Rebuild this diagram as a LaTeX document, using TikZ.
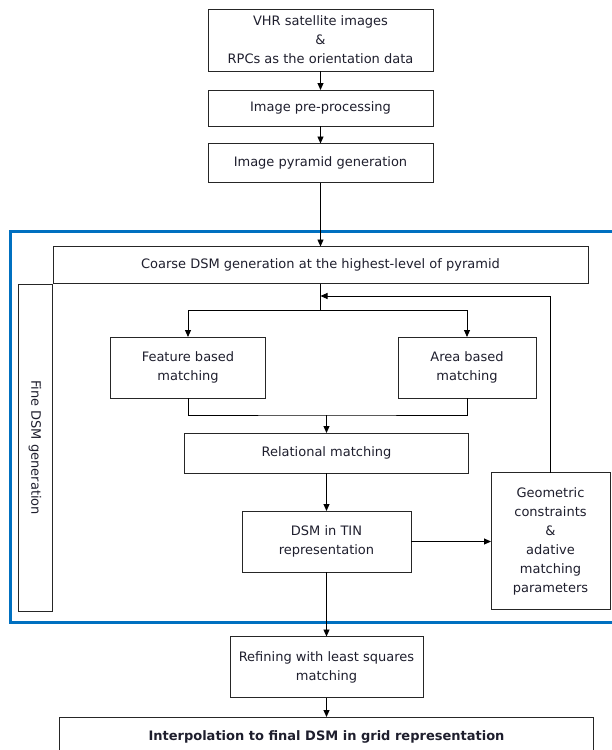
\documentclass[tikz,border=0pt]{standalone}
\usepackage{fontspec}
\setmainfont{DejaVu Sans}
\usepackage{tikz}
\usetikzlibrary{arrows.meta}
\definecolor{framecolor}{RGB}{0, 112, 192}
\definecolor{txtcolor}{RGB}{30, 30, 45}

\begin{document}
\begin{tikzpicture}[x=1pt, y=-1pt,
    box/.style={draw=black!85, line width=1pt, inner sep=0pt, outer sep=0pt,
        align=center, text=txtcolor, font=\fontsize{13}{19}\selectfont},
    arr/.style={-{Triangle[length=7pt, width=6pt]}, line width=0.9pt},
    con/.style={line width=0.9pt}]
    \useasboundingbox (0,0) rectangle (612,750);
    % outer frame of the DSM generation stage
    \draw[framecolor, line width=3pt] (10.5,231) rectangle (640,622.5);

    \node[box, minimum width=225, minimum height=62] (input) at (320.5,40)
        {VHR satellite images\\\&\\RPCs as the orientation data};
    \node[box, minimum width=225, minimum height=36] (prep) at (320.5,108) {Image pre-processing};
    \node[box, minimum width=225, minimum height=39] (pyr) at (320.5,163) {Image pyramid generation};
    \node[box, minimum width=535, minimum height=37] (coarse) at (320.5,265)
        {Coarse DSM generation at the highest-level of pyramid};
    \node[box, minimum width=34, minimum height=327] (fine) at (35,447.5) {};
    \node[rotate=-90, text=txtcolor, font=\fontsize{13}{19}\selectfont] (finelbl) at (fine.center) {Fine DSM generation};
    \node[box, minimum width=155, minimum height=61] (feat) at (188,367.5) {Feature based\\matching};
    \node[box, minimum width=138, minimum height=61] (area) at (467,367.5) {Area based\\matching};
    \node[box, minimum width=284, minimum height=40] (rel) at (326.5,453) {Relational matching};
    \node[box, minimum width=169, minimum height=61] (tin) at (326.5,541.5) {DSM in TIN\\representation};
    \node[box, minimum width=119, minimum height=137] (geo) at (550.5,541)
        {Geometric\\constraints\\\&\\adative\\matching\\parameters};
    \node[box, minimum width=193, minimum height=61] (lsm) at (326.5,667) {Refining with least squares\\matching};
    \node[box, minimum width=534, minimum height=40, font=\fontsize{13}{19}\selectfont\bfseries] (final) at (326.5,737)
        {Interpolation to final DSM in grid representation};

    \coordinate (fb) at (320.5,296);
    \coordinate (split) at (320.5,310);
    \coordinate (merge) at (326.5,415);

    \draw[arr] (input) -- (prep);
    \draw[arr] (prep) -- (pyr);
    \draw[arr] (pyr) -- (coarse);
    \draw[con] (coarse.south) -- (split);
    \draw[arr] (split) -| (feat.north);
    \draw[arr] (split) -| (area.north);
    \draw[arr] (geo.north) |- (fb);
    \draw[con] (feat.south) |- (merge) -| (area.south);
    \draw[arr] (merge) -- (rel);
    \draw[arr] (rel) -- (tin);
    \draw[arr] (tin.east) -- (tin.east -| geo.west);
    \draw[arr] (tin) -- (lsm);
    \draw[arr] (lsm) -- (final);
\end{tikzpicture}
\end{document}
